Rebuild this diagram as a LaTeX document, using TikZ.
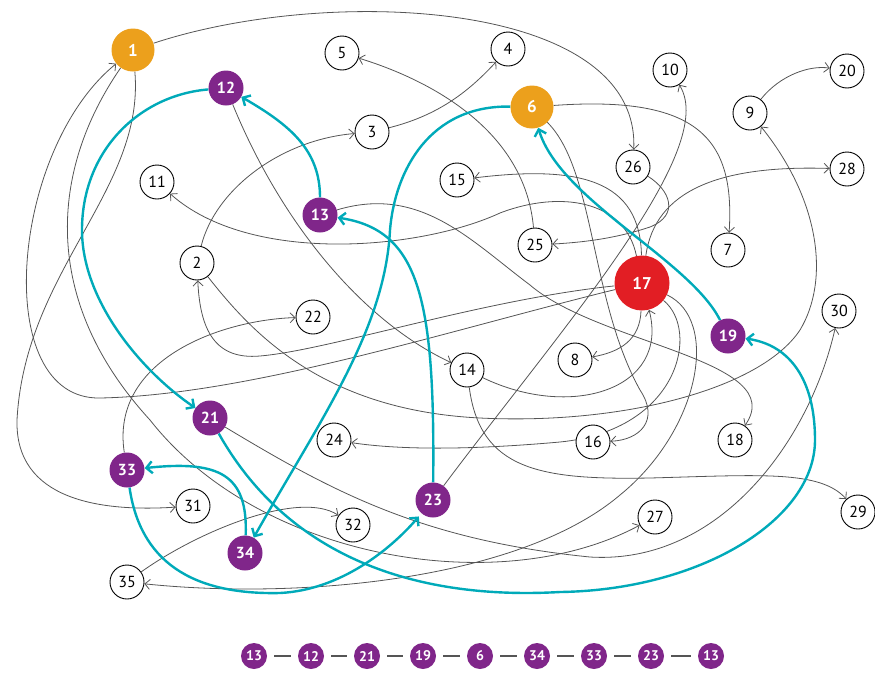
\documentclass[tikz,border=0pt]{standalone}
\usepackage{fontspec}
\setmainfont{PT Sans}
\usetikzlibrary{arrows.meta}
\definecolor{purp}{RGB}{128,38,138}
\definecolor{orng}{RGB}{236,160,28}
\definecolor{redc}{RGB}{226,30,36}
\definecolor{cyanc}{RGB}{0,170,185}
\definecolor{edgegray}{RGB}{85,85,85}
\pgfdeclarelayer{background}
\pgfsetlayers{background,main}
\begin{document}
\begin{tikzpicture}[x=1pt,y=-1pt,
  plain/.style={circle,draw=black,line width=0.9pt,fill=white,minimum size=34pt,inner sep=0pt,font=\fontsize{16}{16}\selectfont},
  pnode/.style={circle,fill=purp,minimum size=35pt,inner sep=0pt,text=white,font=\fontsize{16}{16}\selectfont\bfseries},
  onode/.style={circle,fill=orng,minimum size=43pt,inner sep=0pt,text=white,font=\fontsize{17}{17}\selectfont\bfseries},
  rnode/.style={circle,fill=redc,minimum size=55pt,inner sep=0pt,text=white,font=\fontsize{17}{17}\selectfont\bfseries},
  snode/.style={circle,fill=purp,minimum size=26pt,inner sep=0pt,text=white,font=\fontsize{14}{14}\selectfont\bfseries},
  gedge/.style={draw=edgegray,line width=0.8pt,-{Straight Barb[length=5pt,width=10pt]}},
  cedge/.style={draw=cyanc,line width=2.4pt,-{Straight Barb[length=6pt,width=12pt]}},
  sdash/.style={draw=edgegray,line width=1.3pt,shorten <=7pt,shorten >=7pt}]
\useasboundingbox (0,0) rectangle (875,675);

% nodes
\node[onode] (n1) at (133,50) {1};
\node[pnode] (n12) at (226,88) {12};
\node[plain] (n11) at (157,182) {11};
\node[plain] (n5) at (342,53) {5};
\node[plain] (n4) at (508,49) {4};
\node[plain] (n3) at (372,132) {3};
\node[onode] (n6) at (532,107) {6};
\node[plain] (n15) at (457,180) {15};
\node[pnode] (n13) at (320,215) {13};
\node[plain] (n10) at (670,70) {10};
\node[plain] (n9) at (750,113) {9};
\node[plain] (n20) at (847,71) {20};
\node[plain] (n26) at (633,167) {26};
\node[plain] (n28) at (847,169) {28};
\node[plain] (n2) at (197,263) {2};
\node[pnode] (n21) at (210,418) {21};
\node[plain] (n25) at (535,245) {25};
\node[plain] (n22) at (313,317) {22};
\node[plain] (n14) at (467,370) {14};
\node[plain] (n8) at (575,360) {8};
\node[plain] (n24) at (334,440) {24};
\node[plain] (n7) at (728,250) {7};
\node[rnode] (n17) at (642,283) {17};
\node[plain] (n30) at (839,311) {30};
\node[pnode] (n19) at (728,336) {19};
\node[plain] (n16) at (593,442) {16};
\node[plain] (n18) at (735,440) {18};
\node[pnode] (n33) at (127,470) {33};
\node[plain] (n31) at (193,506) {31};
\node[pnode] (n34) at (245,553) {34};
\node[plain] (n35) at (127,582) {35};
\node[pnode] (n23) at (433,500) {23};
\node[plain] (n32) at (353,525) {32};
\node[plain] (n27) at (655,517) {27};
\node[plain] (n29) at (858,512) {29};

% bottom sequence
\node[snode] (s1) at (254,656) {13};
\node[snode] (s2) at (311,656) {12};
\node[snode] (s3) at (367,656) {21};
\node[snode] (s4) at (423,656) {19};
\node[snode] (s5) at (480,656) {6};
\node[snode] (s6) at (537,656) {34};
\node[snode] (s7) at (594,656) {33};
\node[snode] (s8) at (651,656) {23};
\node[snode] (s9) at (711,656) {13};
\draw[sdash] (s1) -- (s2);
\draw[sdash] (s2) -- (s3);
\draw[sdash] (s3) -- (s4);
\draw[sdash] (s4) -- (s5);
\draw[sdash] (s5) -- (s6);
\draw[sdash] (s6) -- (s7);
\draw[sdash] (s7) -- (s8);
\draw[sdash] (s8) -- (s9);

\begin{pgfonlayer}{background}
% gray edges
\draw[gedge] (n1) .. controls (330,-15) and (640,0) .. (n26);
\draw[gedge] (n1) .. controls (145,190) and (25,270) .. (17,420) .. controls (15,500) and (100,512) .. (n31);
\draw[gedge] (n1) .. controls (50,170) and (40,300) .. (150,420) .. controls (260,560) and (500,600) .. (n27);
\draw[gedge] (n17) .. controls (450,330) and (250,395) .. (100,398) .. controls (-10,400) and (10,150) .. (n1);
\draw[gedge] (n17) .. controls (480,300) and (330,350) .. (260,356) .. controls (215,360) and (200,330) .. (n2);
\draw[gedge] (n17) .. controls (640,180) and (580,165) .. (n15);
\draw[gedge] (n17) .. controls (625,200) and (560,190) .. (500,213) .. controls (420,250) and (250,265) .. (n11);
\draw[gedge] (n17) .. controls (655,190) and (720,165) .. (n28);
\draw[gedge] (n17) .. controls (640,340) and (620,352) .. (n8);
\draw[gedge] (n14) .. controls (570,420) and (670,390) .. (n17);
\draw[gedge] (n17) .. controls (700,330) and (680,430) .. (560,442) .. controls (470,450) and (400,450) .. (n24);
\draw[gedge] (n17) .. controls (720,320) and (700,430) .. (620,495) .. controls (520,580) and (300,600) .. (n35);
\draw[gedge] (n13) .. controls (420,185) and (470,240) .. (530,285) .. controls (600,345) and (790,360) .. (n18);
\draw[gedge] (n12) .. controls (280,220) and (360,320) .. (n14);
\draw[gedge] (n2) .. controls (215,190) and (280,140) .. (n3);
\draw[gedge] (n3) .. controls (440,115) and (470,90) .. (n4);
\draw[gedge] (n25) .. controls (525,130) and (430,80) .. (n5);
\draw[gedge] (n26) .. controls (670,190) and (680,215) .. (650,227) .. controls (620,237) and (590,242) .. (n25);
\draw[gedge] (n6) .. controls (700,95) and (735,140) .. (n7);
\draw[gedge] (n6) .. controls (595,170) and (590,300) .. (640,390) .. controls (660,420) and (640,440) .. (n16);
\draw[gedge] (n23) .. controls (560,330) and (720,150) .. (n10);
\draw[gedge] (n9) .. controls (780,75) and (810,65) .. (n20);
\draw[gedge] (n2) .. controls (250,330) and (320,410) .. (480,418) .. controls (620,425) and (760,390) .. (800,330) .. controls (830,280) and (820,200) .. (n9);
\draw[gedge] (n14) .. controls (480,470) and (540,480) .. (650,478) .. controls (760,475) and (820,470) .. (n29);
\draw[gedge] (n21) .. controls (330,490) and (420,540) .. (590,557) .. controls (720,565) and (810,440) .. (n30);
\draw[gedge] (n33) .. controls (110,360) and (220,320) .. (n22);
\draw[gedge] (n35) .. controls (200,530) and (300,490) .. (n32);

% cyan cycle
\draw[cedge] (n13) .. controls (320,150) and (290,125) .. (n12);
\draw[cedge] (n12) .. controls (140,95) and (82,150) .. (82,230) .. controls (82,300) and (140,370) .. (n21);
\draw[cedge] (n21) .. controls (290,560) and (420,600) .. (560,592) .. controls (700,590) and (815,520) .. (815,440) .. controls (815,380) and (790,345) .. (n19);
\draw[cedge] (n19) .. controls (690,260) and (560,200) .. (n6);
\draw[cedge] (n6) .. controls (430,105) and (395,170) .. (390,230) .. controls (385,330) and (320,420) .. (n34);
\draw[cedge] (n34) .. controls (248,475) and (220,460) .. (n33);
\draw[cedge,shorten >=4pt] (n33) .. controls (140,560) and (190,595) .. (280,593) .. controls (340,590) and (390,550) .. (n23);
\draw[cedge] (n23) .. controls (435,300) and (420,230) .. (n13);
\end{pgfonlayer}
\end{tikzpicture}
\end{document}
